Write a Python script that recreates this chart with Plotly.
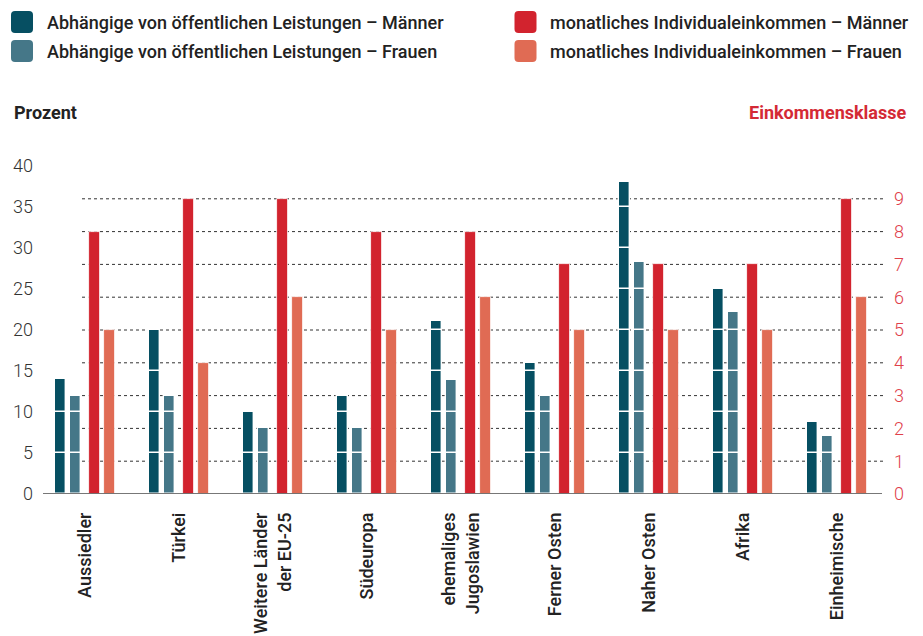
import plotly.graph_objects as go

# Herkunftsgruppen (x-Achse)
categories = [
    "Aussiedler",
    "Türkei",
    "Weitere Länder<br>der EU-25",
    "Südeuropa",
    "ehemaliges<br>Jugoslawien",
    "Ferner Osten",
    "Naher Osten",
    "Afrika",
    "Einheimische",
]

# Abhängige von öffentlichen Leistungen, in Prozent (linke Achse)
dep_men = [14.0, 20.0, 10.0, 12.0, 21.1, 16.0, 38.0, 25.0, 8.8]
dep_women = [11.9, 12.0, 8.1, 8.1, 13.9, 12.0, 28.3, 22.2, 7.1]

# Monatliches Individualeinkommen, Einkommensklasse (rechte Achse)
inc_men = [8, 9, 9, 8, 8, 7, 7, 7, 9]
inc_women = [5, 4, 6, 5, 6, 5, 5, 5, 6]

left_ticks = [0, 5, 10, 15, 20, 25, 30, 35, 40]
right_ticks = [0, 1, 2, 3, 4, 5, 6, 7, 8, 9]

legend_labels = [
    "Abhängige von öffentlichen Leistungen – Männer",
    "Abhängige von öffentlichen Leistungen – Frauen",
    "monatliches Individualeinkommen – Männer",
    "monatliches Individualeinkommen – Frauen",
]

C_DEP_M = "#064f62"
C_DEP_F = "#457788"
C_INC_M = "#d2232e"
C_INC_F = "#e06b54"
C_TEXT = "#222222"
C_RED_TXT = "#d42a35"

FONT = "Roboto"
W, H = 923, 636
ML, MR, MT, MB = 38, 39, 166, 142
PW, PH = W - ML - MR, H - MT - MB

BAR_W = 0.115
SEG = 5  # blue bars are split into 5-percent blocks


def px_x(p):
    return (p - ML) / PW


def px_y(p):
    return (H - MB - p) / PH


fig = go.Figure()


def add_segmented(values, color, offset, name):
    n_seg = int(max(values) // SEG) + 1
    for k in range(n_seg):
        lo = k * SEG
        seg = []
        for v in values:
            h = min(max(v - lo, 0), SEG)
            seg.append(h if h > 0 else None)
        fig.add_trace(go.Bar(
            x=categories, y=seg, base=lo, name=name,
            width=BAR_W, offset=offset,
            marker=dict(color=color, line=dict(color="white", width=1.4)),
            showlegend=False, yaxis="y",
        ))


add_segmented(dep_men, C_DEP_M, -0.322, legend_labels[0])
add_segmented(dep_women, C_DEP_F, -0.158, legend_labels[1])

fig.add_trace(go.Bar(
    x=categories, y=inc_men, name=legend_labels[2],
    width=BAR_W, offset=0.043,
    marker=dict(color=C_INC_M, line=dict(color="white", width=0.8)),
    showlegend=False, yaxis="y2",
))
fig.add_trace(go.Bar(
    x=categories, y=inc_women, name=legend_labels[3],
    width=BAR_W, offset=0.205,
    marker=dict(color=C_INC_F, line=dict(color="white", width=0.8)),
    showlegend=False, yaxis="y2",
))

shapes = []
# dotted gridlines at each income class
for t in right_ticks[1:]:
    shapes.append(dict(
        type="line", xref="paper", yref="y2",
        x0=px_x(82), x1=1.0, y0=t, y1=t,
        line=dict(color="#333333", width=1, dash="dot"), layer="below",
    ))
# baseline
shapes.append(dict(
    type="line", xref="paper", yref="y",
    x0=px_x(43), x1=px_x(882), y0=0, y1=0,
    line=dict(color="#4a4a4a", width=1.6), layer="above",
))

# legend: rounded squares with labels
rounded = ("M -7 -11 L 7 -11 Q 11 -11 11 -7 L 11 7 Q 11 11 7 11 "
           "L -7 11 Q -11 11 -11 7 L -11 -7 Q -11 -11 -7 -11 Z")
legend_items = [
    (22, 22, C_DEP_M, 45, legend_labels[0]),
    (22, 51, C_DEP_F, 45, legend_labels[1]),
    (525.5, 22, C_INC_M, 548, legend_labels[2]),
    (525.5, 51, C_INC_F, 548, legend_labels[3]),
]
annotations = []
for cx, cy, col, tx, label in legend_items:
    shapes.append(dict(
        type="path", xref="paper", yref="paper",
        xsizemode="pixel", ysizemode="pixel",
        xanchor=px_x(cx), yanchor=px_y(cy), path=rounded,
        fillcolor=col, line=dict(width=0), layer="above",
    ))
    annotations.append(dict(
        x=px_x(tx), y=px_y(cy), xref="paper", yref="paper",
        xanchor="left", yanchor="middle", showarrow=False, text=label,
        font=dict(family=FONT, size=18, color=C_TEXT, weight=500),
    ))

annotations.append(dict(
    x=px_x(12), y=px_y(113), xref="paper", yref="paper",
    xanchor="left", yanchor="middle", showarrow=False, text="Prozent",
    font=dict(family=FONT, size=18, color=C_TEXT, weight=700),
))
annotations.append(dict(
    x=px_x(908), y=px_y(113), xref="paper", yref="paper",
    xanchor="right", yanchor="middle", showarrow=False, text="Einkommensklasse",
    font=dict(family=FONT, size=18, color=C_RED_TXT, weight=700),
))

fig.update_layout(
    width=W, height=H, autosize=False,
    margin=dict(l=ML, r=MR, t=MT, b=MB, pad=0, autoexpand=False),
    paper_bgcolor="white", plot_bgcolor="white",
    barmode="overlay", bargap=0,
    showlegend=False,
    font=dict(family=FONT, color=C_TEXT),
    xaxis=dict(
        type="category", range=[-0.5, len(categories) - 0.5],
        showgrid=False, zeroline=False, showline=False, ticks="",
        automargin=False,
        tickangle=-90, ticklabelstandoff=14,
        tickfont=dict(family=FONT, size=18, color=C_TEXT, weight=500),
    ),
    yaxis=dict(
        range=[0, 40], tickvals=left_ticks, showgrid=False, zeroline=False,
        showline=False, ticks="", ticklabelstandoff=4, automargin=False,
        tickfont=dict(family=FONT, size=18, color="#333333", weight=300),
    ),
    yaxis2=dict(
        range=[0, 10], tickvals=right_ticks, overlaying="y", side="right",
        showgrid=False, zeroline=False, showline=False, ticks="",
        ticklabelstandoff=9, automargin=False,
        tickfont=dict(family=FONT, size=18, color="#e0404a", weight=300),
    ),
    shapes=shapes,
    annotations=annotations,
)

fig.write_html("out.html")
